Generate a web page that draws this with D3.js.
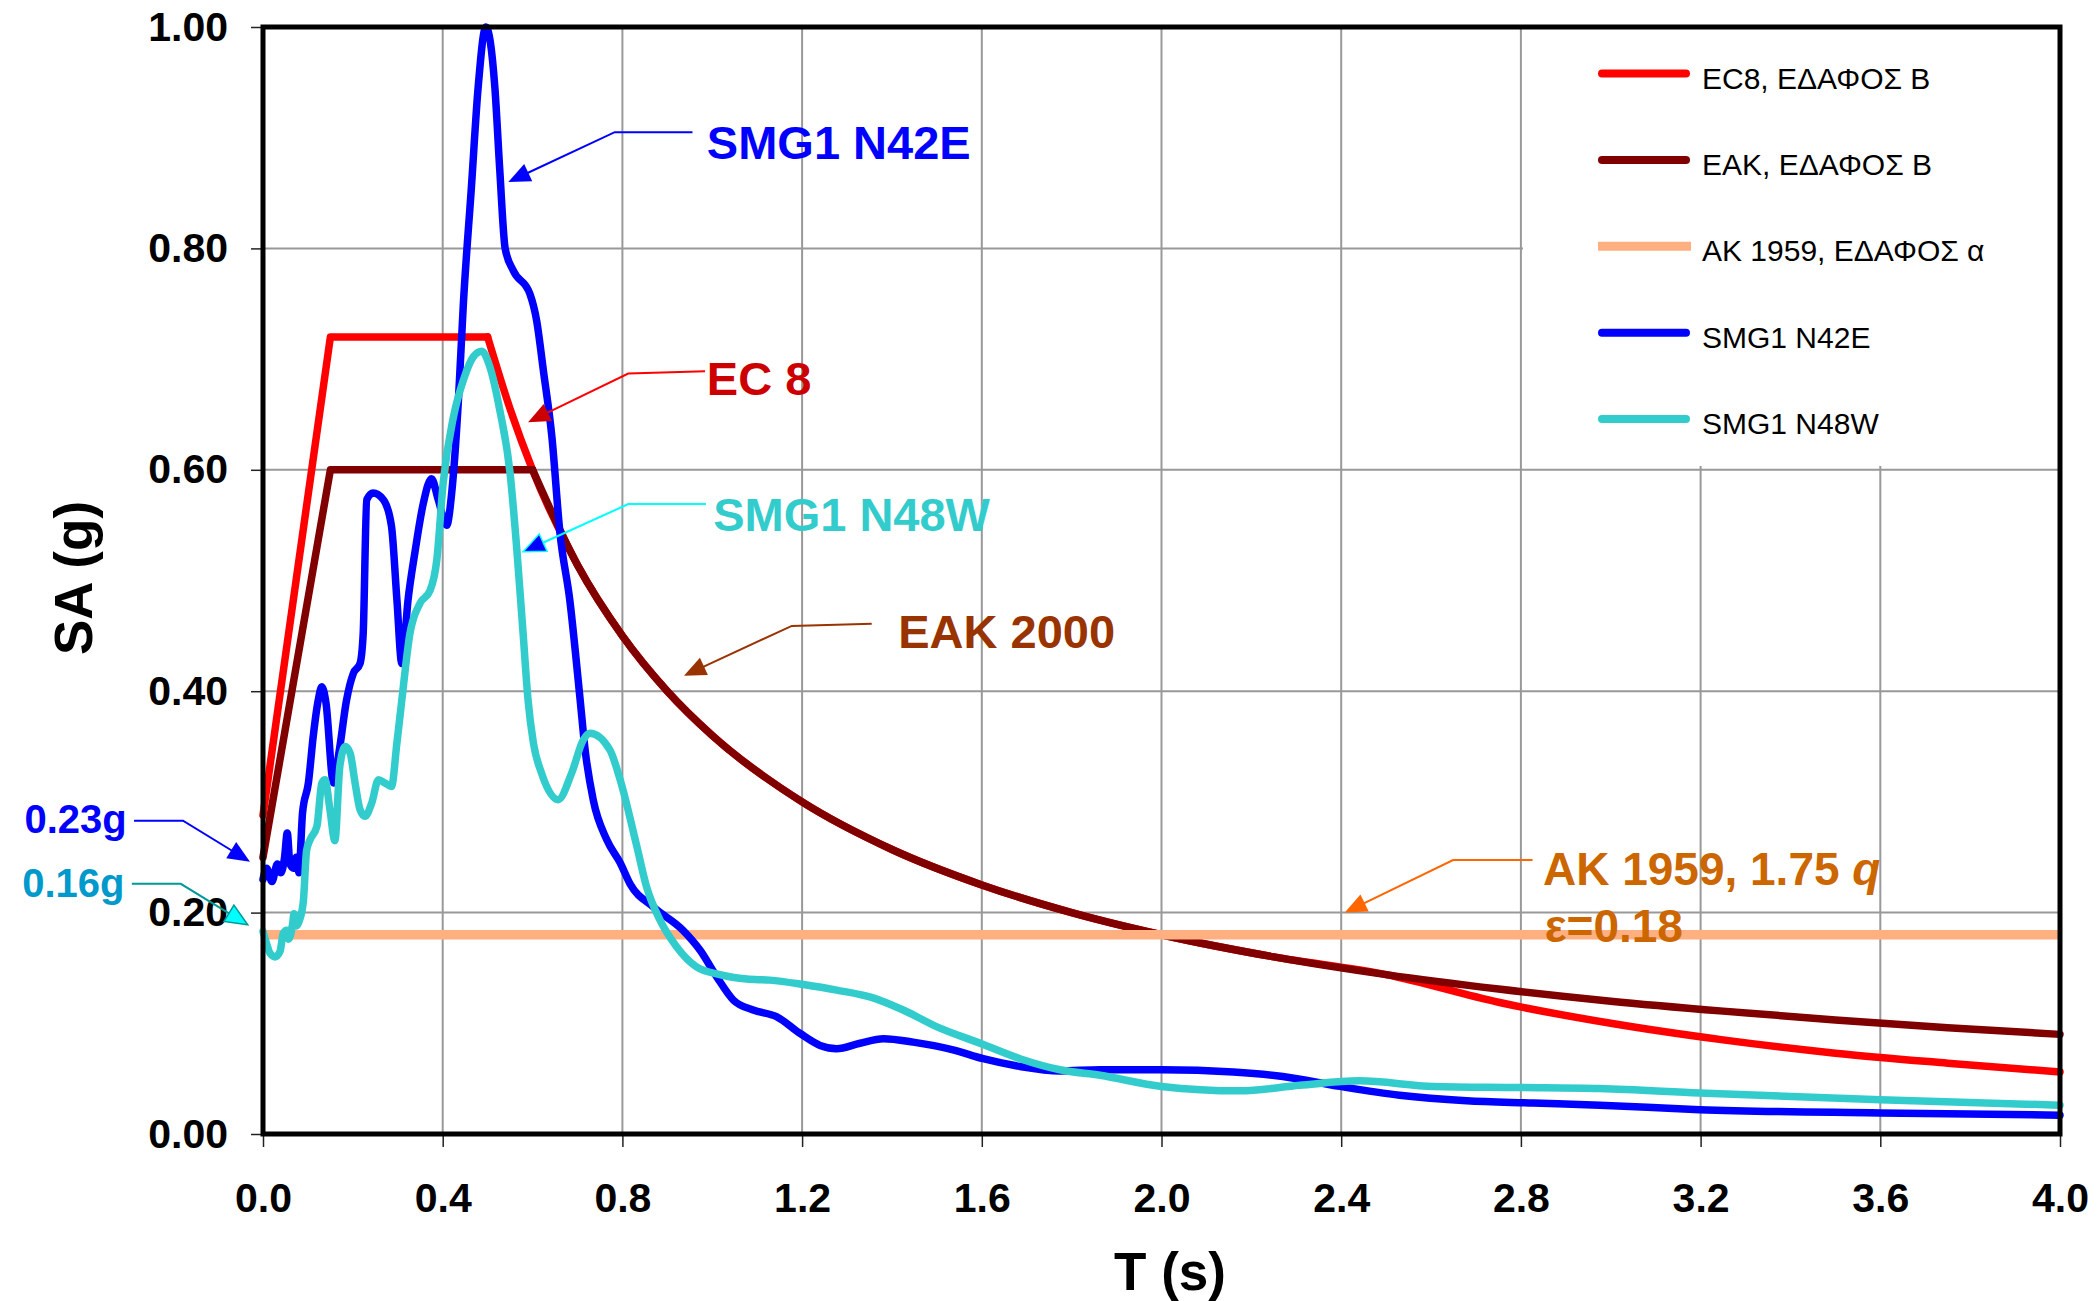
<!DOCTYPE html>
<html>
<head>
<meta charset="utf-8">
<script src="https://cdn.jsdelivr.net/npm/d3@7"></script>
<style>
  html, body { margin: 0; padding: 0; background: #ffffff; }
  svg { display: block; }
  text { font-family: "Liberation Sans", Arial, Helvetica, sans-serif; }
</style>
</head>
<body>
<svg id="chart" width="2097" height="1301"></svg>
<script>
// ---------------------------------------------------------------
// Elastic response spectra: periods T (s) and spectral accel. SA (g)
// ---------------------------------------------------------------

// Design spectrum EC8, ground type B
const ec8Periods = [0, 0.15, 0.5, 0.55, 0.6, 0.7, 0.8, 0.9, 1.0, 1.2, 1.4, 1.6, 1.8, 2.0, 2.25, 2.5, 2.75, 3.0, 3.25, 3.5, 3.75, 4.0];
const ec8Values  = [0.288, 0.72, 0.72, 0.655, 0.60, 0.514, 0.45, 0.40, 0.36, 0.30, 0.257, 0.225, 0.20, 0.18, 0.16, 0.144, 0.119, 0.10, 0.085, 0.073, 0.064, 0.056];
const ec8PlateauEnd = 0.5;

// Design spectrum EAK 2000, ground category B
const eakPeriods = [0, 0.15, 0.6, 0.7, 0.8, 0.9, 1.0, 1.2, 1.4, 1.6, 1.8, 2.0, 2.25, 2.5, 2.75, 3.0, 3.25, 3.5, 3.75, 4.0];
const eakValues  = [0.25, 0.60, 0.60, 0.514, 0.45, 0.40, 0.36, 0.30, 0.257, 0.225, 0.20, 0.18, 0.16, 0.144, 0.131, 0.12, 0.111, 0.103, 0.096, 0.09];
const eakPlateauEnd = 0.6;

// AK 1959 seismic coefficient (constant)
const ak1959Periods = [0, 4.0];
const ak1959Values  = [0.18, 0.18];

// Recorded spectrum SMG1 N42E
const n42ePeriods = [0.000, 0.008, 0.020, 0.032, 0.040, 0.048, 0.054, 0.060, 0.068, 0.074, 0.080,
  0.088, 0.101, 0.112, 0.123, 0.131, 0.140, 0.157, 0.170, 0.186, 0.201, 0.216, 0.223, 0.231,
  0.245, 0.268, 0.286, 0.298, 0.309, 0.323, 0.338, 0.357, 0.375, 0.390, 0.409, 0.420, 0.435,
  0.446, 0.464, 0.479, 0.496, 0.516, 0.527, 0.539, 0.557, 0.594, 0.609, 0.624, 0.643, 0.661,
  0.683, 0.706, 0.717, 0.735, 0.765, 0.795, 0.817, 0.869, 0.935, 0.973, 1.010, 1.047, 1.091,
  1.143, 1.195, 1.240, 1.277, 1.329, 1.381, 1.447, 1.536, 1.603, 1.685, 1.774, 1.863, 2.000,
  2.160, 2.270, 2.397, 2.530, 2.679, 2.827, 2.976, 3.198, 3.600, 4.000];
const n42eValues = [0.230, 0.240, 0.228, 0.244, 0.236, 0.250, 0.272, 0.244, 0.240, 0.250, 0.236,
  0.290, 0.317, 0.360, 0.392, 0.404, 0.390, 0.317, 0.347, 0.392, 0.416, 0.425, 0.452, 0.573,
  0.579, 0.573, 0.549, 0.483, 0.425, 0.483, 0.525, 0.570, 0.592, 0.573, 0.550, 0.579, 0.663,
  0.750, 0.856, 0.946, 1.000, 0.946, 0.871, 0.800, 0.780, 0.759, 0.735, 0.690, 0.630, 0.543,
  0.482, 0.392, 0.347, 0.302, 0.266, 0.245, 0.226, 0.205, 0.184, 0.166, 0.142, 0.121, 0.112,
  0.106, 0.091, 0.080, 0.077, 0.082, 0.086, 0.083, 0.076, 0.068, 0.061, 0.057, 0.058, 0.058,
  0.056, 0.052, 0.043, 0.035, 0.030, 0.028, 0.026, 0.022, 0.019, 0.017];

// Recorded spectrum SMG1 N48W
const n48wPeriods = [0.000, 0.008, 0.016, 0.027, 0.038, 0.045, 0.053, 0.057, 0.066, 0.069, 0.075,
  0.082, 0.090, 0.097, 0.105, 0.120, 0.131, 0.138, 0.149, 0.160, 0.171, 0.183, 0.194, 0.205,
  0.216, 0.227, 0.242, 0.257, 0.272, 0.286, 0.298, 0.309, 0.327, 0.349, 0.372, 0.387, 0.401,
  0.424, 0.446, 0.468, 0.487, 0.505, 0.527, 0.550, 0.565, 0.579, 0.590, 0.602, 0.620, 0.657,
  0.687, 0.713, 0.728, 0.772, 0.795, 0.832, 0.854, 0.884, 0.921, 0.965, 1.017, 1.077, 1.128,
  1.203, 1.277, 1.358, 1.425, 1.499, 1.596, 1.685, 1.774, 1.863, 2.000, 2.174, 2.308, 2.440,
  2.605, 2.790, 2.976, 3.198, 3.600, 4.000];
const n48wValues = [0.183, 0.172, 0.163, 0.160, 0.165, 0.181, 0.184, 0.176, 0.190, 0.199, 0.188,
  0.194, 0.211, 0.256, 0.266, 0.278, 0.317, 0.320, 0.293, 0.265, 0.332, 0.350, 0.344, 0.317,
  0.293, 0.287, 0.299, 0.320, 0.317, 0.314, 0.353, 0.392, 0.452, 0.479, 0.491, 0.519, 0.588,
  0.648, 0.681, 0.702, 0.707, 0.693, 0.654, 0.597, 0.528, 0.452, 0.392, 0.353, 0.326, 0.302,
  0.326, 0.356, 0.362, 0.347, 0.320, 0.260, 0.223, 0.193, 0.169, 0.151, 0.144, 0.140, 0.139,
  0.135, 0.130, 0.123, 0.112, 0.097, 0.082, 0.068, 0.058, 0.053, 0.043, 0.039, 0.044, 0.048,
  0.043, 0.042, 0.041, 0.037, 0.031, 0.026];

// Axis ticks
const xTicks = [0.0, 0.4, 0.8, 1.2, 1.6, 2.0, 2.4, 2.8, 3.2, 3.6, 4.0];
const yTicks = [0.0, 0.2, 0.4, 0.6, 0.8, 1.0];

// Legend labels
const legendLabels = ["EC8, ΕΔΑΦΟΣ Β", "ΕΑΚ, ΕΔΑΦΟΣ Β", "ΑΚ 1959, ΕΔΑΦΟΣ α", "SMG1 N42E", "SMG1 N48W"];

// ---------------------------------------------------------------
const svg = d3.select("#chart");
const plot = { left: 263, right: 2060, top: 27, bottom: 1134 };

const x = d3.scaleLinear().domain([0, 4]).range([plot.left, plot.right]);
const y = d3.scaleLinear().domain([0, 1]).range([plot.bottom, plot.top]);

const colors = {
  ec8: "#FF0000",
  eak: "#800000",
  ak: "#FFAF80",
  n42e: "#0000FF",
  n48w: "#33CCCC"
};

const zip = (ts, vs) => ts.map((t, i) => [t, vs[i]]);
const straight = d3.line().x(d => x(d[0])).y(d => y(d[1]));
const smooth = d3.line().x(d => x(d[0])).y(d => y(d[1])).curve(d3.curveMonotoneX);

// Gridlines
const grid = svg.append("g").attr("stroke", "#999999").attr("stroke-width", 2);
grid.selectAll("line.v").data(xTicks.filter(t => t > 0 && t < 4)).join("line")
  .attr("x1", d => x(d)).attr("x2", d => x(d))
  .attr("y1", plot.top).attr("y2", plot.bottom);
grid.selectAll("line.h").data(yTicks.filter(t => t > 0 && t < 1)).join("line")
  .attr("x1", plot.left).attr("x2", plot.right)
  .attr("y1", d => y(d)).attr("y2", d => y(d));

// Legend background hides the grid behind it
svg.append("rect")
  .attr("x", 1523).attr("y", plot.top + 2)
  .attr("width", plot.right - 1523 - 2).attr("height", 466 - plot.top - 2)
  .attr("fill", "#ffffff");

// Axes (ticks and labels)
const yAxis = d3.axisLeft(y).tickValues(yTicks).tickFormat(d3.format(".2f"))
  .tickSize(12).tickPadding(23);
const xAxis = d3.axisBottom(x).tickValues(xTicks).tickFormat(d3.format(".1f"))
  .tickSize(13).tickPadding(36);

const gy = svg.append("g").attr("transform", `translate(${plot.left},0)`).call(yAxis);
const gx = svg.append("g").attr("transform", `translate(0,${plot.bottom})`).call(xAxis);
[gy, gx].forEach(g => {
  g.select(".domain").remove();
  g.selectAll(".tick line").attr("stroke", "#222").attr("stroke-width", 1.5);
  g.selectAll(".tick text")
    .attr("fill", "#000")
    .style("font-family", '"Liberation Sans", Arial, sans-serif')
    .style("font-weight", "bold");
});
gy.selectAll(".tick text").style("font-size", "41px");
gx.selectAll(".tick text").style("font-size", "41px");

// Series
const series = svg.append("g").attr("fill", "none")
  .attr("stroke-linejoin", "round").attr("stroke-linecap", "round");

function drawDesign(ts, vs, plateauEnd, color) {
  const pts = zip(ts, vs);
  series.append("path").attr("d", straight(pts.filter(d => d[0] <= plateauEnd)))
    .attr("stroke", color).attr("stroke-width", 7.5);
  series.append("path").attr("d", smooth(pts.filter(d => d[0] >= plateauEnd)))
    .attr("stroke", color).attr("stroke-width", 7.5);
}
drawDesign(ec8Periods, ec8Values, ec8PlateauEnd, colors.ec8);
drawDesign(eakPeriods, eakValues, eakPlateauEnd, colors.eak);

series.append("path").attr("d", straight(zip(ak1959Periods, ak1959Values)))
  .attr("stroke", colors.ak).attr("stroke-width", 9.5).attr("stroke-linecap", "butt");

series.append("path").attr("d", smooth(zip(n42ePeriods, n42eValues)))
  .attr("stroke", colors.n42e).attr("stroke-width", 7.5);
series.append("path").attr("d", smooth(zip(n48wPeriods, n48wValues)))
  .attr("stroke", colors.n48w).attr("stroke-width", 7.5);

// Plot frame
svg.append("rect")
  .attr("x", plot.left).attr("y", plot.top)
  .attr("width", plot.right - plot.left).attr("height", plot.bottom - plot.top)
  .attr("fill", "none").attr("stroke", "#000").attr("stroke-width", 5);

// Axis titles
svg.append("text").attr("x", 1170).attr("y", 1290).attr("text-anchor", "middle")
  .style("font-size", "53px").style("font-weight", "bold").text("T (s)");
svg.append("text").attr("transform", "translate(92,578) rotate(-90)").attr("text-anchor", "middle")
  .style("font-size", "53px").style("font-weight", "bold").text("SA (g)");

// Legend
const legendItems = [
  { color: colors.ec8, width: 8, cap: "round" },
  { color: colors.eak, width: 8, cap: "round" },
  { color: colors.ak, width: 9, cap: "butt" },
  { color: colors.n42e, width: 8, cap: "round" },
  { color: colors.n48w, width: 8, cap: "round" }
].map((d, i) => Object.assign({ label: legendLabels[i] }, d));

const legend = svg.append("g");
legendItems.forEach((d, i) => {
  const cy = 73.5 + i * 86.4;
  legend.append("line")
    .attr("x1", d.cap === "round" ? 1602 : 1598).attr("x2", d.cap === "round" ? 1686 : 1691)
    .attr("y1", cy).attr("y2", cy)
    .attr("stroke", d.color).attr("stroke-width", d.width).attr("stroke-linecap", d.cap);
  legend.append("text").attr("x", 1702).attr("y", cy + 15)
    .style("font-size", "30px").attr("fill", "#000").text(d.label);
});

// Callouts (positions in T / SA units)
const callouts = [
  { lines: ["SMG1 N42E"], color: "#0000FF", size: 47, at: [0.988, 0.881],
    path: [[0.956, 0.905], [0.783, 0.905], [0.546, 0.860]], line: "#0000FF", head: "#0000FF" },
  { lines: ["EC 8"], color: "#CC0000", size: 47, at: [0.988, 0.668],
    path: [[0.984, 0.689], [0.813, 0.687], [0.590, 0.643]], line: "#FF0000", head: "#CC0000" },
  { lines: ["SMG1 N48W"], color: "#33CCCC", size: 47, at: [1.002, 0.545],
    path: [[0.986, 0.569], [0.813, 0.569], [0.579, 0.526]], line: "#00FFFF", head: "#0000FF", headStroke: "#00FFFF" },
  { lines: ["ΕΑΚ 2000"], color: "#993300", size: 47, at: [1.414, 0.439],
    path: [[1.355, 0.461], [1.177, 0.459], [0.937, 0.414]], line: "#993300", head: "#993300" },
  { lines: ["ΑΚ 1959, 1.75 ", "ε=0.18"], italic: "q", color: "#CC6600", size: 46, at: [2.849, 0.225], at2: [2.853, 0.173],
    path: [[2.826, 0.2475], [2.649, 0.2475], [2.408, 0.200]], line: "#FF6600", head: "#FF6600" },
  { lines: ["0.23g"], color: "#0000FF", size: 40, at: [-0.531, 0.272],
    path: [[-0.287, 0.283], [-0.178, 0.283], [-0.029, 0.246]], line: "#0000FF", head: "#0000FF" },
  { lines: ["0.16g"], color: "#0099CC", size: 40, at: [-0.536, 0.214],
    path: [[-0.292, 0.226], [-0.183, 0.226], [-0.034, 0.189]], line: "#009999", head: "#00FFFF", headStroke: "#009999" }
];

const notes = svg.append("g");
callouts.forEach(c => {
  const p = c.path.map(d => [x(d[0]), y(d[1])]);
  const tip = p[p.length - 1], prev = p[p.length - 2];
  const ang = Math.atan2(tip[1] - prev[1], tip[0] - prev[0]);
  const L = 22, W = 9.5;
  const bx = tip[0] - L * Math.cos(ang), by = tip[1] - L * Math.sin(ang);
  const nx = -Math.sin(ang) * W, ny = Math.cos(ang) * W;

  notes.append("polyline")
    .attr("points", [p[0], p[1], [bx + 2 * Math.cos(ang), by + 2 * Math.sin(ang)]].map(d => d.join(",")).join(" "))
    .attr("fill", "none").attr("stroke", c.line).attr("stroke-width", 2);
  notes.append("polygon")
    .attr("points", [tip, [bx + nx, by + ny], [bx - nx, by - ny]].map(d => d.join(",")).join(" "))
    .attr("fill", c.head)
    .attr("stroke", c.headStroke || "none").attr("stroke-width", c.headStroke ? 1.5 : 0);

  const t = notes.append("text")
    .attr("x", x(c.at[0])).attr("y", y(c.at[1]))
    .attr("fill", c.color)
    .style("font-size", c.size + "px").style("font-weight", "bold")
    .text(c.lines[0]);
  if (c.italic) t.append("tspan").style("font-style", "italic").text(c.italic);
  if (c.at2) {
    notes.append("text")
      .attr("x", x(c.at2[0])).attr("y", y(c.at2[1]))
      .attr("fill", c.color)
      .style("font-size", c.size + "px").style("font-weight", "bold")
      .text(c.lines[1]);
  }
});
</script>
</body>
</html>
